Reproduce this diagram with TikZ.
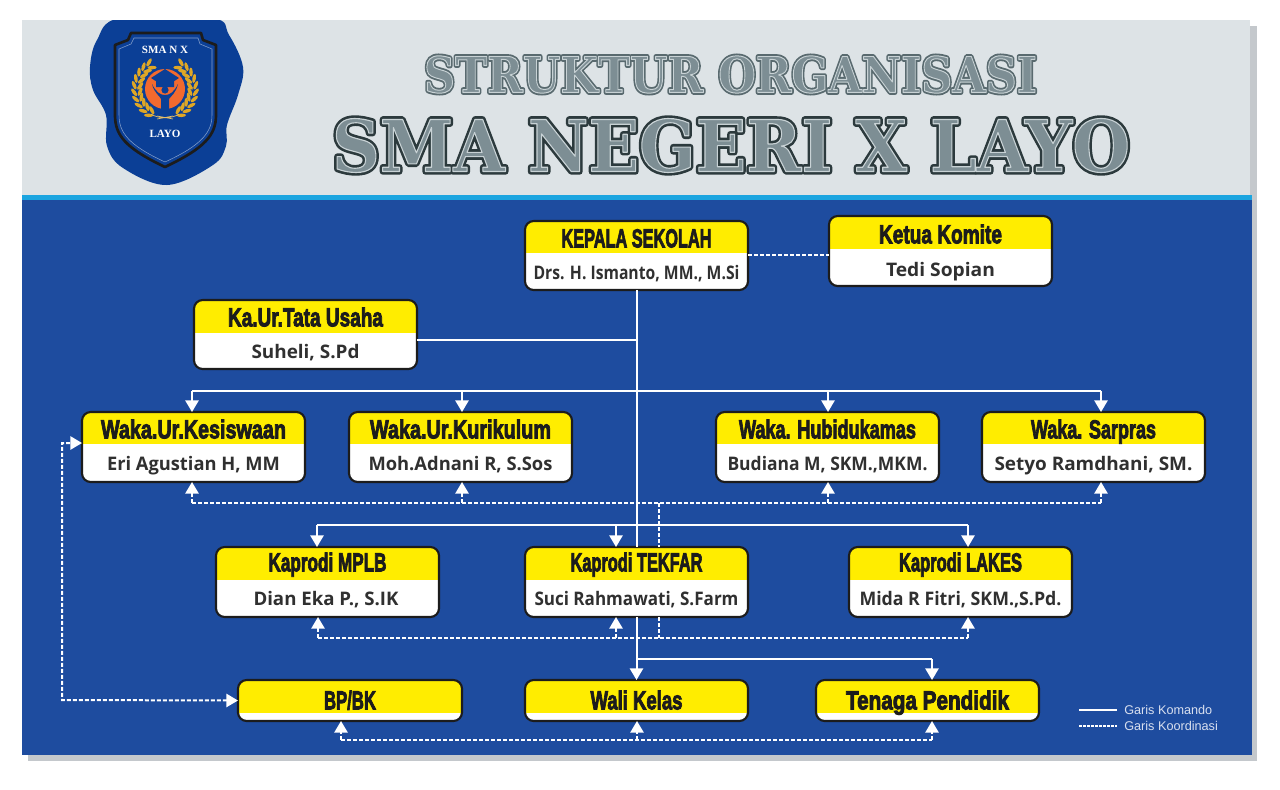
\documentclass[tikz,border=0pt]{standalone}
\usepackage{graphicx}
\usepackage{fontspec}
\usetikzlibrary{arrows.meta}
\setmainfont{Liberation Sans}
\newfontfamily\titlef[FakeBold=3.5]{Liberation Sans Bold}
\newfontfamily\subf{Open Sans Bold}
\newfontfamily\logof{Liberation Serif Bold}
\newfontfamily\bigdark[FakeBold=9]{DejaVu Serif Bold}
\newfontfamily\bigtop[FakeBold=1.6]{DejaVu Serif Bold}
\newfontfamily\smalldark[FakeBold=9.5]{DejaVu Serif Bold}
\newfontfamily\smalltop[FakeBold=2]{DejaVu Serif Bold}
\definecolor{bodyblue}{HTML}{1E4C9F}
\definecolor{band}{HTML}{DDE3E6}
\definecolor{strip}{HTML}{1BA5E0}
\definecolor{pageshadow}{HTML}{C4C8CC}
\definecolor{cardy}{HTML}{FFED00}
\definecolor{ink}{HTML}{1C1C1C}
\definecolor{subink}{HTML}{303030}
\definecolor{logoblue}{HTML}{0B3F96}
\definecolor{gold}{HTML}{DFA726}
\definecolor{logoor}{HTML}{F26A2E}
\definecolor{hfill}{HTML}{7D8E94}
\definecolor{hdark}{HTML}{2C3A3D}
\definecolor{hmid}{HTML}{596A6F}
\definecolor{legendc}{HTML}{D8DFEF}
\tikzset{
  x=0.75pt,y=-0.75pt,
  cardbox/.style={draw=ink,line width=1.6pt,rounded corners=6.5pt,fill=white,inner sep=0pt,outer sep=0pt},
  cardtitle/.style={font=\titlef\fontsize{19.5}{20}\selectfont,text=ink,inner sep=0pt,text height=14pt,text depth=0pt},
  cardsub/.style={font=\subf\fontsize{14}{15}\selectfont,text=subink,inner sep=0pt,text height=10pt,text depth=0pt},
  cmd/.style={draw=white,line width=1.5pt},
  coord/.style={draw=white,line width=1.5pt,dash pattern=on 3pt off 1.5pt},
  tip/.style={-{Triangle[width=10pt,length=8.8pt,fill=white]}},
  headnode/.style={inner sep=0pt,outer sep=0pt},
  legendtext/.style={anchor=west,font=\fontsize{9.5}{10}\selectfont,text=legendc,inner sep=0pt},
  logotext/.style={font=\logof\fontsize{8.3}{9}\selectfont,text=white,inner sep=0pt},
  leaf/.style={fill=gold},
}
\newsavebox\fitbox
\newcommand{\fitx}[2]{\sbox\fitbox{#2}\pgfmathsetmacro{\fitr}{#1*0.75pt/\the\wd\fitbox}\scalebox{\fitr}[1]{\usebox\fitbox}}
\newcommand{\roundstroke}{\special{pdf:code 1 j 1 J}}
\newcommand{\lightstroke}{\special{pdf:code 1 j 1 J 0.784 0.824 0.835 RG}}
% name, x1, y1, x2, y2, split, title y, title width, title
\newcommand{\orgcard}[9]{%
  \pgfmathsetmacro{\cw}{(#4-#2)*0.75}%
  \pgfmathsetmacro{\ch}{(#5-#3)*0.75}%
  \pgfmathsetmacro{\cs}{(#6-#3)*0.75}%
  \node[cardbox,minimum width=\cw pt,minimum height=\ch pt,
    path picture={\fill[cardy,sharp corners] (path picture bounding box.north west) rectangle ([yshift=-\cs pt]path picture bounding box.north east);}]
    (#1) at ({(#2+#4)/2},{(#3+#5)/2}) {};
  \node[cardtitle] (#1t) at ({(#2+#4)/2},#7) {\fitx{#8}{#9}};
}
% name, x, y, width, text
\newcommand{\orgsub}[5]{\node[cardsub] (#1s) at (#2,#3) {\fitx{#4}{#5}};}
\begin{document}
\begin{tikzpicture}
\useasboundingbox (0,0) rectangle (1280,789);
\fill[white] (0,0) rectangle (1280,789);
% page
\fill[pageshadow] (28,26) rectangle (1257,761);
\fill[band] (22,20) rectangle (1250,195);
\fill[strip] (22,195) rectangle (1252,201);
\fill[bodyblue] (22,200) rectangle (1252,755);
% headline
\node[headnode,text=hdark,font=\bigdark\fontsize{53.5}{54}\selectfont] (head2a) at (731,145.5) {\fitx{798}{\roundstroke SMA NEGERI X LAYO}};
\node[headnode,text=hfill,font=\bigtop\fontsize{53.5}{54}\selectfont] (head2) at (731,145.5) {\fitx{798}{\lightstroke SMA NEGERI X LAYO}};
\node[headnode,text=hmid,font=\smalldark\fontsize{37}{38}\selectfont] (head1a) at (730.5,74.5) {\fitx{613}{\roundstroke STRUKTUR ORGANISASI}};
\node[headnode,text=hfill,font=\smalltop\fontsize{37}{38}\selectfont] (head1) at (730.5,74.5) {\fitx{613}{\lightstroke STRUKTUR ORGANISASI}};
% logo
\begin{scope}
  \clip (0,20) rectangle (1280,789);
  \fill[logoblue] plot[smooth cycle,tension=0.6] coordinates {(120,18) (212,18) (229,35) (243,67) (238,95) (227,125) (226,146) (213,165) (167,185) (123,168) (107,146) (106,115) (93,90) (90,67) (97,40)};
\end{scope}
\draw[ink,line width=2pt,line join=round,fill=logoblue] (131,33) -- (201,33) -- (203,40) -- (216,45) -- (216,115) .. controls (216,135) and (205,148) .. (165,167) .. controls (125,148) and (115,135) .. (115,115) -- (115,45) -- (128,40) -- cycle;
\draw[logoblue!50!white,line width=0.4pt,line join=round] (134,38) -- (198,38) -- (200,44) -- (212,49) -- (212,115) .. controls (212,132) and (202,145) .. (165,162) .. controls (128,145) and (119,132) .. (119,115) -- (119,49) -- (131,44) -- cycle;
\fill[logoor] (165,89) circle (20);
\foreach \a in {122,135,...,240}{
  \fill[leaf,shift={(165,89)},shift={(\a:25)},rotate=-\a-120] (0,0) ellipse (4.6 and 1.8);
  \fill[leaf,shift={(165,89)},shift={(\a:31)},rotate=-\a-60] (0,0) ellipse (4.6 and 1.8);
  \fill[leaf,shift={(165,89)},shift={(180-\a:25)},rotate=\a+120] (0,0) ellipse (4.6 and 1.8);
  \fill[leaf,shift={(165,89)},shift={(180-\a:31)},rotate=\a+60] (0,0) ellipse (4.6 and 1.8);
}
\draw[gold!70!white,line width=0.5pt] (151,114) .. controls (158,119) and (172,119) .. (179,114);
\draw[gold!70!white,line width=0.5pt] (157,119) -- (173,116) (157,116) -- (173,119);
\fill[logoblue] (151,78) -- (165,69) -- (179,78) -- (165,87) -- cycle;
\fill[logoblue] (156,80) -- (156,87) -- (174,87) -- (174,80) -- (165,86) -- cycle;
\fill[logoor] (155,87.5) -- (175,87.5) -- (175,89) -- (155,89) -- cycle;
\fill[logoblue] (165,90) circle (3.6);
\fill[logoblue] (152,84) .. controls (154,93) and (160,96) .. (161,99) -- (161,109) -- (169,109) -- (169,99) .. controls (171,96) and (176,93) .. (178,84) .. controls (174,92) and (170,95) .. (165,95) .. controls (160,95) and (156,92) .. (152,84) -- cycle;
\node[logotext] (logotop) at (165,50) {SMA N X};
\node[logotext] (logobot) at (165,133.5) {LAYO};
% cards
\orgcard{kepala}{525}{221}{748}{290}{253}{238}{150}{KEPALA SEKOLAH}
\orgsub{kepala}{636.5}{273}{206}{Drs. H. Ismanto, MM., M.Si}
\orgcard{komite}{829}{216}{1052}{286}{249}{234}{123}{Ketua Komite}
\orgsub{komite}{940.5}{270}{109}{Tedi Sopian}
\orgcard{tu}{194}{300}{417}{369}{333}{317}{155}{Ka.Ur.Tata Usaha}
\orgsub{tu}{305.5}{352}{108}{Suheli, S.Pd}
\orgcard{kes}{82}{412}{305}{482}{444}{429}{185}{Waka.Ur.Kesiswaan}
\orgsub{kes}{193.5}{464}{173}{Eri Agustian H, MM}
\orgcard{kur}{349}{412}{572}{482}{444}{429}{181}{Waka.Ur.Kurikulum}
\orgsub{kur}{460.5}{464}{184}{Moh.Adnani R, S.Sos}
\orgcard{hub}{716}{412}{939}{482}{444}{429}{177}{Waka. Hubidukamas}
\orgsub{hub}{827.5}{464}{200}{Budiana M, SKM.,MKM.}
\orgcard{sar}{982}{412}{1205}{482}{444}{429}{125}{Waka. Sarpras}
\orgsub{sar}{1093.5}{464}{198}{Setyo Ramdhani, SM.}
\orgcard{mplb}{216}{547}{439}{617}{580}{562}{118}{Kaprodi MPLB}
\orgsub{mplb}{326}{599}{145}{Dian Eka P., S.IK}
\orgcard{tek}{525}{547}{748}{617}{580}{562}{132}{Kaprodi TEKFAR}
\orgsub{tek}{636.5}{599}{204}{Suci Rahmawati, S.Farm}
\orgcard{lak}{849}{547}{1072}{617}{580}{562}{123}{Kaprodi LAKES}
\orgsub{lak}{960.5}{599}{202}{Mida R Fitri, SKM.,S.Pd.}
\orgcard{bk}{238}{680}{462}{721}{713}{700}{52}{BP/BK}
\orgcard{wali}{525}{680}{748}{721}{713}{700}{92}{Wali Kelas}
\orgcard{ten}{816}{680}{1039}{721}{713}{700}{163}{Tenaga Pendidik}
% junctions
\coordinate (jtu) at (637,340);
\coordinate (b1) at (192,391); \coordinate (b2) at (462,391); \coordinate (b3) at (828,391); \coordinate (b4) at (1101,391);
\coordinate (c1) at (317,525); \coordinate (c2) at (616,525); \coordinate (c3) at (968,525);
\coordinate (d1) at (637,659); \coordinate (d2) at (932,659);
\coordinate (e1) at (192,503); \coordinate (e2) at (462,503); \coordinate (e3) at (828,503); \coordinate (e4) at (1101,503);
\coordinate (f1) at (318,638); \coordinate (f2) at (616,638); \coordinate (f3) at (968,638);
\coordinate (fv) at (659,638); \coordinate (ev) at (659,503);
\coordinate (g1) at (341,740); \coordinate (g2) at (637,740); \coordinate (g3) at (932,740);
\coordinate (kl) at (62,700); \coordinate (kk) at (62,443);
\coordinate (kok) at (748,255);
% command lines
\draw[cmd] (kepala.south) -- (tek.north);
\draw[cmd,tip] (tek.south) -- (wali.north);
\draw[cmd] (tu.east |- jtu) -- (jtu);
\draw[cmd] (b1) -- (b4);
\draw[cmd,tip] (b1) -- (b1 |- kes.north);
\draw[cmd,tip] (b2) -- (b2 |- kur.north);
\draw[cmd,tip] (b3) -- (b3 |- hub.north);
\draw[cmd,tip] (b4) -- (b4 |- sar.north);
\draw[cmd] (c1) -- (c3);
\draw[cmd,tip] (c1) -- (c1 |- mplb.north);
\draw[cmd,tip] (c2) -- (c2 |- tek.north);
\draw[cmd,tip] (c3) -- (c3 |- lak.north);
\draw[cmd] (d1) -- (d2);
\draw[cmd,tip] (d2) -- (d2 |- ten.north);
% coordination lines
\draw[coord] (kok) -- (kok -| komite.west);
\draw[coord] (e1) -- (e4);
\draw[coord,tip] (e1) -- (e1 |- kes.south);
\draw[coord,tip] (e2) -- (e2 |- kur.south);
\draw[coord,tip] (e3) -- (e3 |- hub.south);
\draw[coord,tip] (e4) -- (e4 |- sar.south);
\draw[coord] (ev) -- (ev |- tek.north);
\draw[coord] (fv |- tek.south) -- (fv);
\draw[coord] (f1) -- (f3);
\draw[coord,tip] (f1) -- (f1 |- mplb.south);
\draw[coord,tip] (f2) -- (f2 |- tek.south);
\draw[coord,tip] (f3) -- (f3 |- lak.south);
\draw[coord] (g1) -- (g3);
\draw[coord,tip] (g1) -- (g1 |- bk.south);
\draw[coord,tip] (g2) -- (g2 |- wali.south);
\draw[coord,tip] (g3) -- (g3 |- ten.south);
\draw[coord,{Triangle[width=10pt,length=8.8pt,fill=white]}-{Triangle[width=10pt,length=8.8pt,fill=white]}] (bk.west) -- (kl) -- (kk) -- (kk -| kes.west);
% legend
\coordinate (la) at (1079,710); \coordinate (lb) at (1117,710);
\coordinate (lc) at (1079,726); \coordinate (ld) at (1117,726);
\draw[cmd] (la) -- (lb);
\draw[coord,line width=1pt,dash pattern=on 2pt off 1pt] (lc) -- (ld);
\node[legendtext] (lg1) at (1124,710) {Garis Komando};
\node[legendtext] (lg2) at (1124,726) {Garis Koordinasi};
\end{tikzpicture}
\end{document}
